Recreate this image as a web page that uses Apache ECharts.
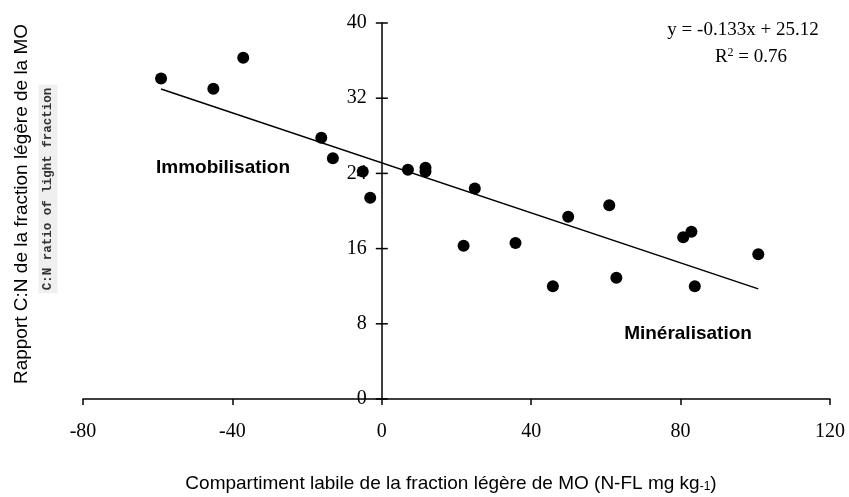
<!DOCTYPE html>
<html><head><meta charset="utf-8">
<script src="https://cdn.jsdelivr.net/npm/echarts@6/dist/echarts.min.js"></script>
<style>html,body{margin:0;padding:0;background:#fff}#c{width:849px;height:497px}</style>
</head><body><div id="c"></div>
<script>
const xVals = [-59.1, -45.1, -37.1, -16.2, -13.1, -5.1, -3.1, 7.0, 11.7, 11.7, 24.9, 21.9, 35.8, 49.9, 45.8, 60.9, 62.8, 80.7, 82.9, 83.8, 100.8];
const yVals = [34.1, 33.0, 36.3, 27.8, 25.6, 24.2, 21.4, 24.4, 24.6, 24.2, 22.4, 16.3, 16.6, 19.4, 12.0, 20.6, 12.9, 17.2, 17.8, 12.0, 15.4];
const xTicks = [-80, -40, 0, 40, 80, 120];
const yTicks = [0, 8, 16, 24, 32, 40];
const slope = -0.133;
const intercept = 25.12;
const eqText = 'y = -0.133x + 25.12';
const r2Text = ' = 0.76';
const xTitle = 'Compartiment labile de la fraction légère de MO (N-FL mg kg';
const yTitle = 'Rapport C:N de la fraction légère de la MO';
const yTitle2 = 'C:N ratio of light fraction';
const zoneLeft = 'Immobilisation';
const zoneRight = 'Minéralisation';

const pts = xVals.map((x, i) => [x, yVals[i]]);
const xMin = Math.min(...xVals), xMax = Math.max(...xVals);
const trend = [[xMin, slope * xMin + intercept], [xMax, slope * xMax + intercept]];

const serif = "'Liberation Serif', 'Times New Roman', serif";
const narrow = "'Liberation Sans Narrow', 'Arial Narrow', 'Liberation Sans', Arial, sans-serif";

const gridLeft = 83, gridRight = 19;
const plotW = 849 - gridLeft - gridRight;
const yAxisShift = plotW * (0 - xTicks[0]) / (xTicks[xTicks.length - 1] - xTicks[0]);

const chart = echarts.init(document.getElementById('c'));
chart.setOption({
  animation: false,
  backgroundColor: '#ffffff',
  grid: { left: gridLeft, right: gridRight, top: 23, bottom: 98, containLabel: false },
  xAxis: {
    type: 'value', min: xTicks[0], max: xTicks[xTicks.length - 1], interval: 40,
    splitLine: { show: false },
    axisLine: { show: true, onZero: false, lineStyle: { color: '#000', width: 1.5 } },
    axisTick: { show: true, length: 6, lineStyle: { color: '#000', width: 1.5 } },
    axisLabel: { color: '#000', fontFamily: serif, fontSize: 20, margin: 23 }
  },
  yAxis: {
    type: 'value', min: yTicks[0], max: yTicks[yTicks.length - 1], interval: 8,
    position: 'left', offset: -yAxisShift,
    splitLine: { show: false },
    axisLine: { show: true, onZero: false, lineStyle: { color: '#000', width: 1.5 } },
    axisTick: { show: false },
    axisLabel: { color: '#000', fontFamily: serif, fontSize: 20, margin: 15 }
  },
  series: [
    {
      type: 'scatter', data: yTicks.map(v => [0, v]), symbol: 'rect', symbolSize: [12, 1.5],
      itemStyle: { color: '#000', opacity: 1 }, silent: true, z: 1
    },
    {
      type: 'line', data: trend, symbol: 'none', lineStyle: { color: '#000', width: 1.5 }, z: 2
    },
    {
      type: 'scatter', data: pts, symbol: 'circle', symbolSize: 12, itemStyle: { color: '#000', opacity: 1 }, z: 3
    }
  ],
  graphic: [
    { type: 'text', x: 743, y: 30, style: { text: eqText, font: "19px " + serif, fill: '#000', align: 'center', verticalAlign: 'middle' } },
    { type: 'text', x: 751, y: 57, style: { text: '{a|R}{s|2}{a|' + r2Text + '}', fill: '#000', align: 'center', verticalAlign: 'middle',
      rich: { a: { fontFamily: serif, fontSize: 19, color: '#000' }, s: { fontFamily: serif, fontSize: 12, color: '#000', verticalAlign: 'top', padding: [0, 0, 8, 0] } } } },
    { type: 'text', x: 223, y: 168, style: { text: zoneLeft, font: "bold 19px " + narrow, fill: '#000', align: 'center', verticalAlign: 'middle' } },
    { type: 'text', x: 688, y: 334, style: { text: zoneRight, font: "bold 19px " + narrow, fill: '#000', align: 'center', verticalAlign: 'middle' } },
    { type: 'text', x: 451, y: 484, style: { text: '{a|' + xTitle + '}{s|-1}{a|)}', fill: '#000', align: 'center', verticalAlign: 'middle',
      rich: { a: { fontFamily: narrow, fontSize: 19, color: '#000' }, s: { fontFamily: narrow, fontSize: 12, color: '#000', padding: [6, 0, 0, 0] } } } },
    { type: 'text', x: 22, y: 204, rotation: Math.PI / 2, style: { text: yTitle, font: "19px " + narrow, fill: '#000', align: 'center', verticalAlign: 'middle' } },
    { type: 'text', x: 48, y: 189, rotation: Math.PI / 2, style: { text: yTitle2, font: "bold 12.5px 'Liberation Mono', 'Courier New', monospace", fill: '#333', align: 'center', verticalAlign: 'middle', backgroundColor: '#efefef', padding: [3, 3, 3, 3] } }
  ]
});
</script>
</body></html>
